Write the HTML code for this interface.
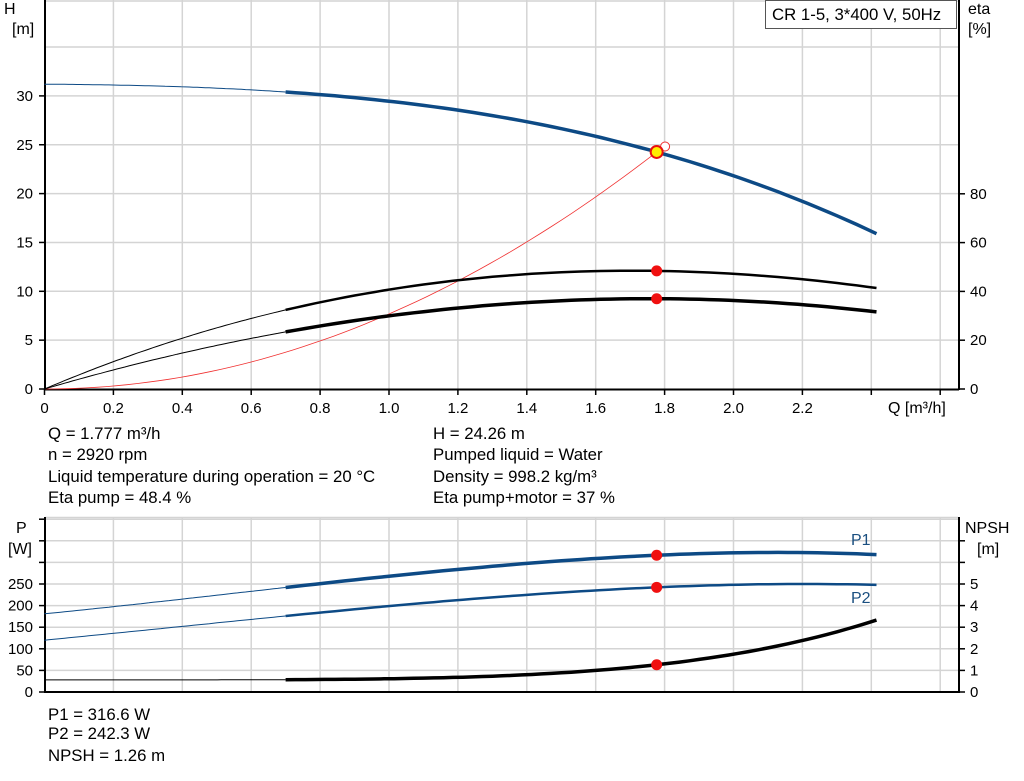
<!DOCTYPE html>
<html><head><meta charset="utf-8"><style>
body{margin:0;background:#fff;width:1024px;height:781px;overflow:hidden}
svg{display:block;font-family:"Liberation Sans",Arial,sans-serif}
text{font-size:15px;fill:#000}
.b{font-size:16.8px}
.a{font-size:16px}
</style></head><body>
<svg id="s" width="1024" height="781" viewBox="0 0 1024 781">
<g id="grid" stroke="#d4d4d4" stroke-width="1.5" fill="none"></g>
<g id="curves" fill="none"></g>
<g id="labels"></g>
<rect x="765.5" y="0.5" width="191" height="28" fill="#fff" stroke="#555"/>
<text class="b" x="772" y="20">CR 1-5, 3*400 V, 50Hz</text>
<text class="a" x="4" y="14">H</text><text class="a" x="12" y="34">[m]</text>
<text class="a" x="968" y="14">eta</text><text class="a" x="968" y="34">[%]</text>
<text class="a" x="888" y="413">Q [m³/h]</text>
<text class="b" x="48" y="439">Q = 1.777 m³/h</text>
<text class="b" x="48" y="460">n = 2920 rpm</text>
<text class="b" x="48" y="482">Liquid temperature during operation = 20 °C</text>
<text class="b" x="48" y="503">Eta pump = 48.4 %</text>
<text class="b" x="433" y="439">H = 24.26 m</text>
<text class="b" x="433" y="460">Pumped liquid = Water</text>
<text class="b" x="433" y="482">Density = 998.2 kg/m³</text>
<text class="b" x="433" y="503">Eta pump+motor = 37 %</text>
<text class="a" x="16" y="533">P</text><text class="a" x="8" y="554">[W]</text>
<text class="a" x="965" y="533">NPSH</text><text class="a" x="977" y="554">[m]</text>
<text class="a" x="851" y="545" style="fill:#1a4f80">P1</text>
<text class="a" x="851" y="603" style="fill:#1a4f80">P2</text>
<text class="b" x="48" y="720">P1 = 316.6 W</text>
<text class="b" x="48" y="739">P2 = 242.3 W</text>
<text class="b" x="48" y="761">NPSH = 1.26 m</text>
</svg>
<script>
var NS="http://www.w3.org/2000/svg";
function el(p,t,a,txt){var e=document.createElementNS(NS,t);for(var k in a)e.setAttribute(k,a[k]);if(txt!==undefined)e.textContent=txt;p.appendChild(e);return e;}
var G=document.getElementById('grid'),C=document.getElementById('curves'),L=document.getElementById('labels');
function X(q){return 44.5+q*344.5;}
for(var i=1;i<=13;i++){var x=X(i*0.2);el(G,'line',{x1:x,y1:0,x2:x,y2:389});el(G,'line',{x1:x,y1:517,x2:x,y2:692});}
for(var h=5;h<=35;h+=5){var y=389-9.77*h;el(G,'line',{x1:45,y1:y,x2:958,y2:y});}
el(G,'line',{x1:45,y1:1,x2:958,y2:1});
for(var p=50;p<=400;p+=50){var y=692-0.432*p;el(G,'line',{x1:45,y1:y,x2:958,y2:y});}
el(G,'line',{x1:45,y1:517.5,x2:958,y2:517.5});
var A={stroke:'#000','stroke-width':2};
el(C,'line',Object.assign({x1:45,y1:0,x2:45,y2:390},A));
el(C,'line',Object.assign({x1:44,y1:389.5,x2:959,y2:389.5},A));
el(C,'line',Object.assign({x1:959,y1:0,x2:959,y2:390},A));
el(C,'line',Object.assign({x1:45,y1:517,x2:45,y2:693},A));
el(C,'line',Object.assign({x1:44,y1:692,x2:959,y2:692},A));
el(C,'line',Object.assign({x1:959,y1:517,x2:959,y2:693},A));
for(var i=0;i<=13;i++){var x=X(i*0.2);el(C,'line',{x1:x,y1:389,x2:x,y2:395,stroke:'#000','stroke-width':1.5});
 if(i<=11)el(L,'text',{x:x,y:413,'text-anchor':'middle'},(i==0?'0':(i*0.2).toFixed(1)));}
for(var h=0;h<=30;h+=5){var y=389-9.77*h;el(C,'line',{x1:39,y1:y,x2:45,y2:y,stroke:'#000','stroke-width':1.5});el(L,'text',{x:33,y:y+5,'text-anchor':'end'},h);}
for(var e=0;e<=80;e+=20){var y=389-2.44*e;el(C,'line',{x1:959,y1:y,x2:965,y2:y,stroke:'#000','stroke-width':1.5});el(L,'text',{x:970,y:y+5},e);}
for(var p=0;p<=400;p+=50){var y=692-0.432*p;el(C,'line',{x1:39,y1:y,x2:45,y2:y,stroke:'#000','stroke-width':1.5});if(p<=250)el(L,'text',{x:33,y:y+5,'text-anchor':'end'},p);}
for(var n=0;n<=7;n++){var y=692-21.6*n;el(C,'line',{x1:959,y1:y,x2:965,y2:y,stroke:'#000','stroke-width':1.5});if(n<=5)el(L,'text',{x:970,y:y+5},n);}
function lag(pts){return function(q){var s=0;for(var i=0;i<pts.length;i++){var t=pts[i][1];for(var j=0;j<pts.length;j++)if(j!=i)t*=(q-pts[j][0])/(pts[i][0]-pts[j][0]);s+=t;}return s;};}
function path(f,Y,a,b){var d='';for(var k=0;k<=60;k++){var q=a+(b-a)*k/60;d+=(k?'L':'M')+X(q).toFixed(1)+','+Y(f(q)).toFixed(1);}return d;}
function curve(f,Y,col,w1,w2){el(C,'path',{d:path(f,Y,0,0.7),stroke:col,'stroke-width':w1});el(C,'path',{d:path(f,Y,0.7,2.415),stroke:col,'stroke-width':w2});}
var YH=function(v){return 389-9.77*v},YE=function(v){return 389-2.44*v},YP=function(v){return 692-0.432*v},YN=function(v){return 692-21.6*v};
var H=lag([[0,31.2],[0.7,30.4],[1.777,24.26],[2.415,15.9]]);
var E1=lag([[0,0],[0.7,32.4],[1.777,48.4],[2.415,41.4]]);
var E2=lag([[0,0],[0.7,23.4],[1.777,37],[2.415,31.6]]);
var P1=lag([[0,181],[0.7,242],[1.777,316.6],[2.415,318]]);
var P2=lag([[0,120],[0.7,176],[1.777,242.3],[2.415,248]]);
var NP=function(q){var t=q/2.415;return 0.56+2.77*Math.pow(t,4.48);};
el(C,'path',{d:path(function(q){return 7.68*q*q;},YH,0,1.8),stroke:'#f03030','stroke-width':0.8});
curve(H,YH,'#0d4a85',1,3.5);
curve(E1,YE,'#000',1,2.5);
curve(E2,YE,'#000',1,3.5);
curve(P1,YP,'#0d4a85',1,3.5);
curve(P2,YP,'#0d4a85',1,2.5);
curve(NP,YN,'#000',1,3.5);
var qx=X(1.777);
el(C,'circle',{cx:X(1.8)+0.5,cy:146.5,r:4.5,fill:'#fff',stroke:'#f03030','stroke-width':1});
el(C,'circle',{cx:qx,cy:YH(24.26),r:6,fill:'#ffee00',stroke:'#e81010','stroke-width':2});
[YE(48.4),YE(37),YP(316.6),YP(242.3),YN(1.26)].forEach(function(v){el(C,'circle',{cx:qx,cy:v,r:5.5,fill:'#f01010'});});
</script>
</body></html>
